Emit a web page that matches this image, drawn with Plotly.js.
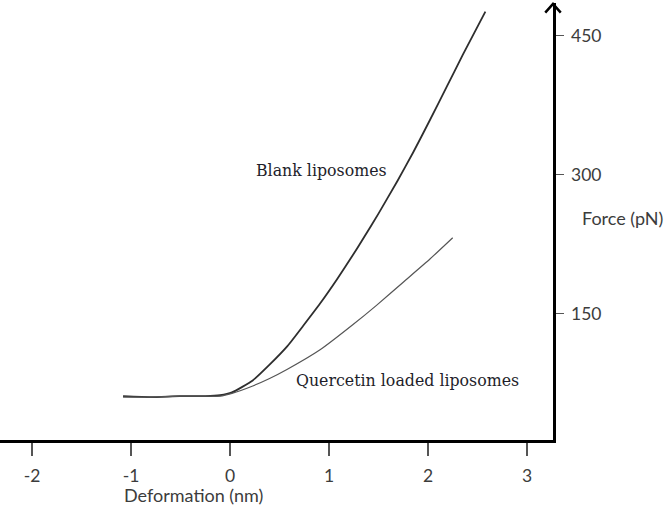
<!DOCTYPE html>
<html>
<head>
<meta charset="utf-8">
<script src="https://cdn.plot.ly/plotly-3.0.1.min.js"></script>
<style>html,body{margin:0;padding:0;background:#fff;}#chart{width:666px;height:505px;}</style>
</head>
<body>
<div id="chart"></div>
<script>
// Blank liposomes: deformation (nm) vs force (pN)
const blankX = [-1.08, -0.80, -0.51, -0.25, -0.10, 0.02, 0.23, 0.40, 0.58, 0.74, 0.91, 1.08, 1.24, 1.34, 1.50, 1.69, 1.85, 2.02, 2.19, 2.35, 2.58];
const blankY = [61, 60, 61, 61, 62, 65, 78, 95, 115, 137, 161, 187, 213, 230, 258, 293, 324, 359, 395, 429, 476];
// Quercetin loaded liposomes
const quercX = [-1.08, -0.80, -0.51, -0.25, -0.10, 0.02, 0.23, 0.40, 0.58, 0.91, 1.24, 1.48, 1.75, 2.02, 2.25];
const quercY = [60, 60, 61, 61, 61, 64, 72, 80, 90, 111, 138, 159, 184, 209, 232];
const xTicks = [-2, -1, 0, 1, 2, 3];
const yTicks = [150, 300, 450];

const traces = [
  {x: blankX, y: blankY, type: 'scatter', mode: 'lines', line: {color: '#2e2e2e', width: 1.8, shape: 'spline', smoothing: 0.5}, hoverinfo: 'none'},
  {x: quercX, y: quercY, type: 'scatter', mode: 'lines', line: {color: '#555555', width: 1.2, shape: 'spline', smoothing: 0.5}, hoverinfo: 'none'}
];

const sansFont = {family: 'Lato, "Open Sans", sans-serif', size: 18, color: '#3c3c3c'};
const tickFont = {family: 'Lato, "Open Sans", sans-serif', size: 17.5, color: '#3c3c3c'};
const serif = {family: '"DejaVu Serif", "Liberation Serif", serif', size: 15.8, color: '#1e1e2a'};

const layout = {
  width: 666, height: 505,
  margin: {l: 0, r: 113, t: 3, b: 65},
  paper_bgcolor: '#fff', plot_bgcolor: '#fff',
  showlegend: false,
  xaxis: {
    range: [-2.323, 3.263], tickmode: 'array', tickvals: xTicks, ticktext: xTicks.map(String),
    showline: true, linecolor: '#000', linewidth: 2.5, showgrid: false, zeroline: false,
    ticks: 'outside', ticklen: 13, tickwidth: 1.3, tickcolor: '#555', tickfont: tickFont,
    ticklabelstandoff: 5
  },
  yaxis: {
    range: [13.7, 485.3], side: 'right', tickmode: 'array', tickvals: yTicks, ticktext: yTicks.map(String),
    showline: true, linecolor: '#000', linewidth: 2.5, showgrid: false, zeroline: false,
    ticks: 'outside', ticklen: 8, tickwidth: 1.3, tickcolor: '#555', tickfont: tickFont,
    ticklabelstandoff: 4
  },
  shapes: [
    {type: 'path', xref: 'paper', yref: 'paper', path: 'M 0.986 0.978 L 1 0.998 L 1.014 0.978', line: {color: '#000', width: 2.5}}
  ],
  annotations: [
    {text: 'Blank liposomes', xref: 'paper', yref: 'paper', x: 321/553, y: (440-170)/437, showarrow: false, font: serif, xanchor: 'center', yanchor: 'middle'},
    {text: 'Quercetin loaded liposomes', xref: 'paper', yref: 'paper', x: 407/553, y: (440-380)/437, showarrow: false, font: serif, xanchor: 'center', yanchor: 'middle'},
    {text: 'Force (pN)', xref: 'paper', yref: 'paper', x: 622/553, y: (440-218)/437, showarrow: false, font: sansFont, xanchor: 'center', yanchor: 'middle'},
    {text: 'Deformation (nm)', xref: 'paper', yref: 'paper', x: 193/553, y: (440-495)/437, showarrow: false, font: sansFont, xanchor: 'center', yanchor: 'middle'}
  ]
};

Plotly.newPlot('chart', traces, layout, {staticPlot: true, displayModeBar: false});
</script>
</body>
</html>
